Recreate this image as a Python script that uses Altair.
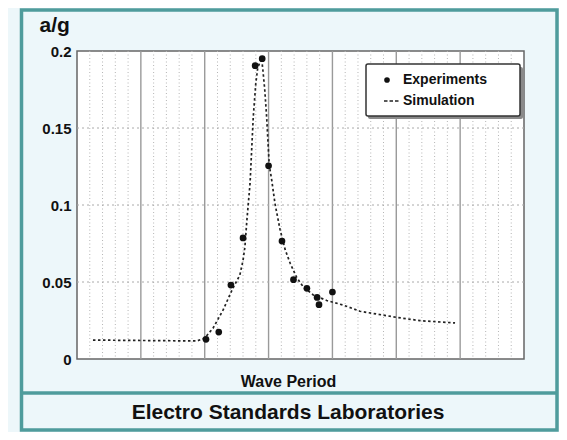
import altair as alt
import pandas as pd

# ---------------- data ----------------
exp_x = [2.02, 2.22, 2.41, 2.60, 2.79, 2.90, 3.00, 3.21, 3.39, 3.60, 3.76, 3.79, 4.00]
exp_y = [0.0128, 0.0175, 0.048, 0.0786, 0.1905, 0.195, 0.1255, 0.0766, 0.0515, 0.0459, 0.040, 0.0353, 0.0435]

sim_x = [0.25, 1.88, 2.00, 2.13, 2.29, 2.43, 2.55, 2.60, 2.63, 2.66, 2.71, 2.76, 2.80, 2.83, 2.89,
         2.91, 2.94, 2.97, 3.01, 3.05, 3.10, 3.18, 3.26, 3.34, 3.44, 3.54, 3.70, 3.91, 4.17, 4.43,
         5.01, 5.37, 5.92]
sim_y = [0.0123, 0.0117, 0.0136, 0.020, 0.032, 0.045, 0.0545, 0.064, 0.073, 0.090, 0.114, 0.157, 0.179, 0.189, 0.1955,
         0.188, 0.175, 0.157, 0.126, 0.116, 0.101, 0.084, 0.071, 0.062, 0.053, 0.047, 0.0416, 0.038, 0.035, 0.031,
         0.027, 0.0249, 0.0234]

y_ticks = [0, 0.05, 0.1, 0.15, 0.2]
major_x = [1, 2, 3, 4, 5, 6]
minor_x = [0.2, 0.4, 0.6, 0.8, 1.2, 1.4, 1.6, 1.8, 2.2, 2.4, 2.6, 2.8, 3.2, 3.4, 3.6, 3.8,
           4.2, 4.4, 4.6, 4.8, 5.2, 5.4, 5.6, 5.8, 6.2, 6.4, 6.6, 6.8]
grid_y = [0.05, 0.1, 0.15]

legend_labels = ["Experiments", "Simulation"]
x_title = "Wave Period"
y_title = "a/g"
footer = "Electro Standards Laboratories"

# ---------------- styling ----------------
FONT = "Liberation Sans"
TEAL = "#4f9c9c"
W, H = 447, 308

xscale = alt.Scale(domain=[0, 7], nice=False, zero=False)
yscale = alt.Scale(domain=[0, 0.2], nice=False)
xaxis = alt.Axis(labels=False, ticks=False, domain=False, grid=False, title=x_title,
                 titleFont=FONT, titleFontSize=16, titleFontWeight="bold", titleColor="#111",
                 titleX=211, titleY=22, titleAlign="center", titleBaseline="middle")
yaxis = alt.Axis(values=y_ticks, format="~g", ticks=False, domain=False, grid=False,
                 labelFont=FONT, labelFontSize=15, labelFontWeight="bold", labelColor="#111",
                 labelPadding=6, title=y_title, titleAngle=0, titleAlign="left",
                 titleBaseline="alphabetic", titleX=-38, titleY=-20, titleFont=FONT,
                 titleFontSize=21, titleFontWeight="bold", titleColor="#111")


def X(f):
    return alt.X(f, type="quantitative", scale=xscale, axis=xaxis)


def Y(f):
    return alt.Y(f, type="quantitative", scale=yscale, axis=yaxis)


one = pd.DataFrame({"k": [0]})
exp_df = pd.DataFrame({"x": exp_x, "y": exp_y})
sim_df = pd.DataFrame({"x": sim_x, "y": sim_y})

# frame and separator
frame = alt.Chart(one).mark_rect(fillOpacity=0, stroke=TEAL, strokeWidth=3.5).encode(
    x=alt.value(-55.5), x2=alt.value(480), y=alt.value(-41), y2=alt.value(379))
sep = alt.Chart(one).mark_rule(stroke=TEAL, strokeWidth=3.5).encode(
    x=alt.value(-55.5), x2=alt.value(480), y=alt.value(342))

# grid
minor = alt.Chart(pd.DataFrame({"x": minor_x})).mark_rule(
    color="#b5b5b5", strokeWidth=1, strokeDash=[1, 2.5]).encode(x=X("x"))
major = alt.Chart(pd.DataFrame({"x": major_x})).mark_rule(
    color="#9a9a9a", strokeWidth=1.4).encode(x=X("x"))
hgrid = alt.Chart(pd.DataFrame({"y": grid_y})).mark_rule(
    color="#aaaaaa", strokeWidth=1, strokeDash=[2, 3]).encode(y=Y("y"))

# data
sim = alt.Chart(sim_df).mark_line(color="#222", strokeWidth=1.7, strokeDash=[2.5, 2.5],
                                  interpolate="linear").encode(x=X("x"), y=Y("y"), order="x:Q")
pts = alt.Chart(exp_df).mark_point(filled=True, color="#111", opacity=1, size=45).encode(
    x=X("x"), y=Y("y"))

# legend
lg_shadow = alt.Chart(one).mark_rect(fill="#8a8a8a", cornerRadius=2).encode(
    x=alt.value(291), x2=alt.value(446), y=alt.value(16), y2=alt.value(68))
lg_box = alt.Chart(one).mark_rect(fill="white", stroke="#333", strokeWidth=1.5, cornerRadius=2).encode(
    x=alt.value(289), x2=alt.value(443), y=alt.value(13), y2=alt.value(65))
lg_dot = alt.Chart(one).mark_point(filled=True, color="#111", opacity=1, size=32).encode(
    x=alt.value(310), y=alt.value(29))
lg_dash = alt.Chart(one).mark_rule(color="#222", strokeWidth=1.6, strokeDash=[3.5, 2]).encode(
    x=alt.value(307), x2=alt.value(323), y=alt.value(50))
lg_t1 = alt.Chart(one).mark_text(align="left", baseline="middle", font=FONT, fontSize=14,
                                 fontWeight="bold", color="#111").encode(
    x=alt.value(326), y=alt.value(29), text=alt.value(legend_labels[0]))
lg_t2 = alt.Chart(one).mark_text(align="left", baseline="middle", font=FONT, fontSize=14,
                                 fontWeight="bold", color="#111").encode(
    x=alt.value(326), y=alt.value(50), text=alt.value(legend_labels[1]))

foot = alt.Chart(one).mark_text(align="center", baseline="middle", font=FONT, fontSize=21,
                                fontWeight="bold", color="#111").encode(
    x=alt.value(211), y=alt.value(362), text=alt.value(footer))

chart = alt.layer(
    frame, sep, minor, major, hgrid, sim, pts,
    lg_shadow, lg_box, lg_dot, lg_dash, lg_t1, lg_t2, foot
).properties(
    width=W, height=H,
    autosize=alt.AutoSizeParams(type="none"),
    padding={"left": 69, "top": 43, "right": 35, "bottom": 73},
    background="#edf7fa",
).configure_view(
    fill="white", stroke="#666", strokeWidth=1.5
)

chart.save("out.html", embed_options={"renderer": "svg", "actions": False})
